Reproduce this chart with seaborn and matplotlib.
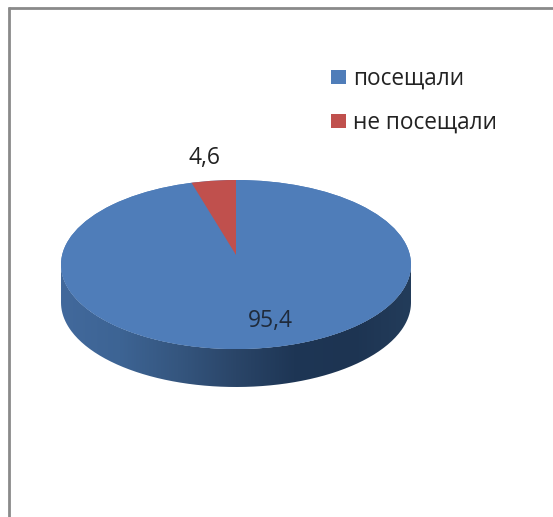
#!/usr/bin/env python3
# plot.py - pseudo 3D pie
import numpy as np
import matplotlib
matplotlib.use("Agg")
import matplotlib.pyplot as plt
from matplotlib.colors import LinearSegmentedColormap
from matplotlib.lines import Line2D
from matplotlib.patches import Ellipse, PathPatch
from matplotlib.path import Path
import seaborn as sns

labels = ["посещали", "не посещали"]
values = [95.4, 4.6]
colors = ["#4F7DB9", "#C0504D"]
wall_colors = ["#42699C", "#3D6494", "#35567F", "#2A4568", "#1E3655", "#1D3452", "#233C5A"]

W, H = 553, 517
CX, CY, RX, RY = 236, 264.5, 175, 84.5
DEPTH = 38

sns.set_theme(style="white")
plt.rcParams["font.family"] = ["Open Sans", "DejaVu Sans"]


def to_data(px, py):
    return (px - CX) / RX, (CY - py) / RY


fig = plt.figure(figsize=(W / 100, H / 100), dpi=100, facecolor="white")
ax = fig.add_axes([0, 0, 1, 1])

# side wall of the disc, gradient clipped to the outline
t = np.linspace(np.pi, 2 * np.pi, 200)
d = DEPTH / RY
wall_x = np.concatenate([np.cos(t), np.cos(t[::-1])])
wall_y = np.concatenate([np.sin(t) - d, np.sin(t[::-1])])
wall = PathPatch(Path(np.column_stack([wall_x, wall_y])), fc="none", ec="none")
ax.add_patch(wall)
cmap = LinearSegmentedColormap.from_list("wall", wall_colors)
grad = ax.imshow(np.linspace(0, 1, 256)[None, :], cmap=cmap, aspect="auto",
                 extent=(-1, 1, -1 - d, 1), zorder=1)
grad.set_clip_path(wall)

# top face. the apex sits a bit above the ellipse centre, so the pie is
# oversized and clipped to the ellipse
top = Ellipse((0, 0), 2, 2, fc=colors[0], ec="none", zorder=2)
ax.add_patch(top)
apex = to_data(CX, 255)
wedges, _ = ax.pie(values, colors=sns.color_palette(colors), startangle=90,
                   counterclock=False, center=apex, radius=1.4,
                   wedgeprops={"linewidth": 0, "zorder": 3})
for w in wedges:
    w.set_clip_on(True)
    w.set_clip_path(top)

ax.set_xlim(to_data(0, 0)[0], to_data(W, 0)[0])
ax.set_ylim(to_data(0, H)[1], to_data(0, 0)[1])
ax.set_aspect("auto")
ax.axis("off")

# value labels
txt = [f"{v:.1f}".replace(".", ",") for v in values]
x0, y0 = to_data(270, 320.5)
ax.text(x0, y0, txt[0], ha="center", va="center", fontsize=16.5, color="#1F2A3A", zorder=5)
x1, y1 = to_data(205, 158)
ax.text(x1, y1, txt[1], ha="center", va="center", fontsize=16.5, color="#222222", zorder=5)

# legend
leg = ax.legend(wedges, labels, loc="upper left", bbox_to_anchor=(331 / W, 1 - 67 / H),
                frameon=False, fontsize=16.3, handlelength=0.66, handleheight=0.62,
                handletextpad=0.32, labelspacing=0.88, borderpad=0, borderaxespad=0,
                labelcolor="#222222")

# chart frame, only top and left are in the picture
frame = "#8A8A8A"
fig.add_artist(Line2D([8.5 / W, 8.5 / W], [0, 1 - 7 / H], color=frame, lw=2, solid_capstyle="butt"))
fig.add_artist(Line2D([7.5 / W, 1], [1 - 7.5 / H, 1 - 7.5 / H], color=frame, lw=2, solid_capstyle="butt"))

fig.savefig("out.png", dpi=100)
